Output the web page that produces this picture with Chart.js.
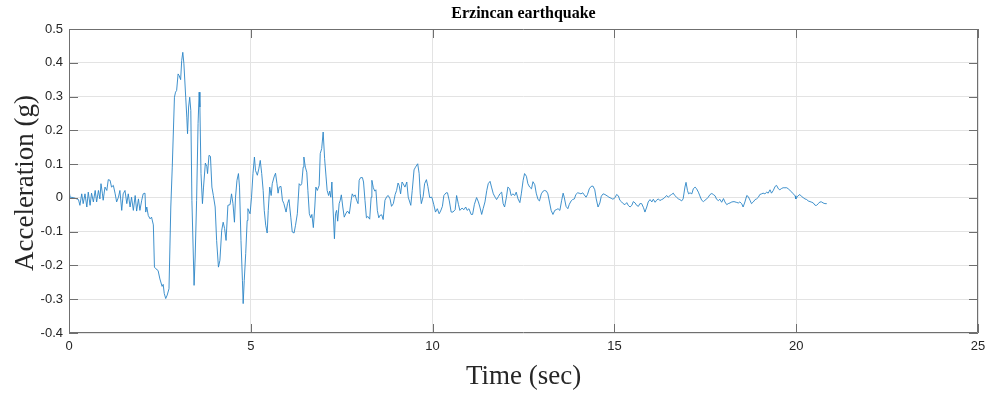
<!DOCTYPE html>
<html>
<head>
<meta charset="utf-8">
<title>Erzincan earthquake</title>
<script src="https://cdn.jsdelivr.net/npm/chart.js@4/dist/chart.umd.min.js"></script>
<style>
  html, body { margin: 0; padding: 0; background: #fff; }
  #wrap { width: 993px; height: 393px; }
</style>
</head>
<body>
<div id="wrap"><canvas id="quakeChart" width="993" height="393"></canvas></div>
<script>
// Ground acceleration record, time in seconds, acceleration in g
const timeSec = [
  0.00, 0.03, 0.12, 0.26, 0.30, 0.35, 0.39, 0.44, 0.49, 0.53, 0.58, 0.62, 0.67, 0.72, 0.76, 0.81, 0.85, 0.88, 0.92, 0.94,
  0.99, 1.04, 1.08, 1.13, 1.17, 1.22, 1.27, 1.31, 1.36, 1.40, 1.45, 1.49, 1.54, 1.59, 1.63, 1.68, 1.72, 1.77, 1.82, 1.86,
  1.91, 1.95, 2.00, 2.04, 2.09, 2.11, 2.14, 2.18, 2.23, 2.27, 2.32,
  2.35, 2.39, 2.45, 2.50, 2.56, 2.59, 2.62, 2.66, 2.70, 2.75, 2.80, 2.84, 2.90, 2.93, 2.96, 3.00, 3.03, 3.07, 3.10, 3.13,
  3.16, 3.21, 3.24, 3.26, 3.29, 3.32, 3.35, 3.38, 3.44, 3.47, 3.51, 3.55, 3.58, 3.60, 3.63, 3.67, 3.70, 3.75, 3.79, 3.81,
  3.85, 3.89, 3.93, 3.97, 4.02, 4.06, 4.11, 4.15, 4.20, 4.24, 4.28, 4.32, 4.37, 4.43,
  4.47, 4.51, 4.55, 4.58, 4.62, 4.66, 4.69, 4.73, 4.77, 4.79, 4.82, 4.86, 4.90, 4.92, 4.98, 5.02, 5.06, 5.10, 5.13, 5.18,
  5.22, 5.26, 5.30, 5.34, 5.37, 5.41, 5.45, 5.48, 5.52, 5.56, 5.59, 5.64, 5.68, 5.72, 5.75, 5.78, 5.83, 5.87, 5.91, 5.97,
  6.01, 6.05, 6.10, 6.14, 6.19, 6.23, 6.28, 6.33, 6.37,
  6.40, 6.44, 6.46, 6.50, 6.54, 6.57, 6.61, 6.65, 6.68, 6.72, 6.76, 6.79, 6.83, 6.88, 6.91, 6.95, 6.99, 7.03, 7.07, 7.10,
  7.14, 7.17, 7.20, 7.23, 7.26, 7.30, 7.33, 7.36, 7.39, 7.43, 7.46, 7.49, 7.53, 7.57, 7.62, 7.66, 7.71, 7.76, 7.79, 7.83,
  7.87, 7.91, 7.95, 7.98, 8.02, 8.07, 8.10, 8.14, 8.18, 8.22, 8.27, 8.31, 8.33, 8.37, 8.41, 8.44, 8.48, 8.52, 8.55, 8.60,
  8.64, 8.69, 8.74,
  8.78, 8.83, 8.87, 8.92, 8.97, 9.01, 9.05, 9.08, 9.12, 9.16, 9.19, 9.24, 9.29, 9.33, 9.40, 9.44, 9.49, 9.53, 9.59, 9.63,
  9.66, 9.69, 9.74, 9.78, 9.83, 9.87, 9.92, 9.98, 10.03, 10.08, 10.13, 10.18, 10.22, 10.27, 10.31, 10.37, 10.41, 10.46,
  10.51, 10.56, 10.62, 10.66, 10.71, 10.75, 10.81, 10.86, 10.91, 10.95, 11.00, 11.06, 11.10, 11.15,
  11.21, 11.26, 11.30, 11.35, 11.39, 11.44, 11.49, 11.53, 11.58, 11.62, 11.67, 11.72, 11.76, 11.81, 11.85, 11.90, 11.94,
  11.98, 12.03, 12.07, 12.12, 12.16, 12.21, 12.26, 12.30, 12.35, 12.40, 12.44, 12.49, 12.53, 12.58, 12.62, 12.67, 12.72,
  12.76, 12.81, 12.85, 12.90, 12.94, 12.99, 13.04, 13.08, 13.13, 13.17, 13.22, 13.26, 13.31, 13.36, 13.40, 13.45,
  13.50, 13.55, 13.59, 13.62, 13.67, 13.72, 13.76, 13.81, 13.85, 13.90, 13.94, 13.99, 14.03, 14.08, 14.13, 14.17, 14.22,
  14.26, 14.31, 14.36, 14.41, 14.46, 14.50, 14.55, 14.60, 14.64, 14.69, 14.74, 14.80, 14.85, 14.91, 14.96, 15.02, 15.06,
  15.11, 15.15, 15.20, 15.24, 15.29, 15.34, 15.38, 15.43, 15.48, 15.52, 15.57, 15.61, 15.66, 15.70, 15.75, 15.80, 15.84,
  15.89, 15.93, 15.98, 16.03, 16.07, 16.12, 16.16, 16.21, 16.25, 16.30, 16.34, 16.39, 16.44, 16.48, 16.53, 16.57, 16.62,
  16.66, 16.71, 16.76, 16.80, 16.85, 16.89, 16.94, 16.97, 17.01, 17.04, 17.08, 17.13, 17.17, 17.22, 17.26, 17.31, 17.35,
  17.40, 17.45, 17.49, 17.54, 17.58, 17.63, 17.68, 17.72, 17.77, 17.81, 17.86, 17.90, 17.95, 18.00, 18.04, 18.09, 18.13,
  18.18, 18.23, 18.29, 18.35, 18.41, 18.45, 18.50, 18.54, 18.59, 18.64, 18.68, 18.73, 18.77, 18.82, 18.87, 18.91, 18.96,
  19.00, 19.05, 19.09, 19.14, 19.19, 19.23, 19.28, 19.32, 19.37, 19.42, 19.46, 19.51, 19.55, 19.60, 19.64, 19.69, 19.74,
  19.78, 19.83, 19.88, 19.92, 19.97, 19.99, 20.04, 20.10, 20.15, 20.19, 20.24, 20.29, 20.33, 20.38, 20.43, 20.47, 20.52,
  20.56, 20.61, 20.65, 20.70, 20.74, 20.79, 20.84
];

const accelG = [
  0.024, 0.002, 0.001, -0.005, -0.022, 0.012, -0.017, 0.012, -0.027, 0.017, -0.022, 0.014, -0.012, 0.022, -0.012, 0.022, -0.003, 0.042, 0.012, -0.007,
  0.032, 0.022, 0.054, 0.052, 0.032, 0.037, 0.012, -0.012, 0.002, 0.022, -0.037, 0.012, 0.022, -0.017, 0.012, -0.027, 0.002, -0.037, 0.007, -0.039,
  -0.003, -0.037, -0.007, 0.012, 0.014, -0.042, -0.027, -0.052, -0.062, -0.057, -0.080,
  -0.205, -0.210, -0.215, -0.240, -0.262, -0.256, -0.283, -0.298, -0.288, -0.269, -0.027, 0.091, 0.298, 0.313, 0.318, 0.367, 0.362, 0.350, 0.407, 0.431,
  0.397, 0.298, 0.239, 0.190, 0.269, 0.298, 0.259, -0.007, -0.259, -0.175, -0.007, 0.220, 0.313, 0.269, 0.072, -0.017, 0.032, 0.103, 0.093, 0.072,
  0.126, 0.123, 0.032, 0.007, -0.027, -0.126, -0.205, -0.185, -0.096, -0.072, -0.091, -0.126, -0.022, -0.020,
  0.012, -0.017, -0.072, 0.002, 0.052, 0.072, 0.032, -0.126, -0.244, -0.313, -0.244, -0.165, -0.067, -0.032, -0.047, 0.002, 0.072, 0.121, 0.081, 0.067,
  0.086, 0.111, 0.072, 0.022, -0.037, -0.081, -0.104, -0.037, 0.032, 0.007, 0.042, 0.062, 0.073, 0.042, 0.014, 0.032, 0.034, -0.007, -0.017, -0.042,
  -0.017, -0.005, -0.057, -0.101, -0.104, -0.081, -0.047, 0.042, 0.037,
  0.042, 0.091, 0.121, 0.091, 0.076, 0.022, -0.047, -0.059, -0.049, -0.088, -0.027, 0.032, 0.022, 0.037, 0.131, 0.146, 0.195, 0.116, 0.062, 0.022,
  0.007, 0.020, 0.002, 0.047, -0.027, -0.121, -0.047, -0.037, -0.069, -0.017, -0.007, 0.009, -0.027, -0.057, -0.045, -0.039, -0.047, -0.007, 0.012, 0.004,
  0.009, -0.007, -0.017, 0.052, 0.060, 0.060, 0.047, -0.007, -0.059, -0.055, -0.063, 0.002, 0.052, 0.030, 0.020, 0.024, -0.037, -0.059, -0.052, -0.050,
  -0.064, -0.007, 0.004,
  0.007, -0.003, -0.025, -0.017, 0.010, 0.022, 0.044, 0.037, 0.012, 0.047, 0.042, 0.032, 0.047, 0.002, -0.022, 0.022, 0.083, 0.091, 0.101, 0.072,
  0.012, -0.017, 0.004, 0.042, 0.054, 0.034, 0.001, 0.002, -0.019, -0.042, -0.032, -0.047, -0.039, -0.025, 0.007, 0.015, 0.015, -0.009,
  -0.042, -0.042, -0.035, 0.007, -0.019, -0.037, -0.030, -0.035, -0.027, -0.037, -0.032, -0.049, -0.049, -0.019,
  0.001, -0.012, -0.027, -0.049, -0.032, -0.012, 0.022, 0.042, 0.049, 0.032, 0.012, 0.002, -0.005, 0.004, 0.012, 0.017, -0.017,
  -0.027, 0.002, 0.032, 0.027, 0.007, 0.012, 0.007, 0.017, -0.003, -0.014, 0.012, 0.052, 0.072, 0.064, 0.042, 0.032, 0.027,
  0.048, 0.039, 0.014, -0.005, -0.009, 0.012, 0.020, 0.022, 0.020, 0.012, -0.015, -0.037, -0.049, -0.037, -0.035, -0.032,
  -0.037, -0.007, 0.014, 0.002, -0.025, -0.032, -0.019, -0.009, -0.005, -0.003, 0.010, 0.015, 0.014, 0.012, 0.015, 0.009, 0.002,
  0.010, 0.027, 0.034, 0.035, 0.024, -0.003, -0.027, -0.015, 0.005, 0.012, 0.010, 0.006, 0.002, -0.001, -0.004, 0.001, 0.010,
  0.006, -0.007, -0.012, -0.017, -0.020, -0.014, -0.022, -0.027, -0.022, -0.011, -0.015, -0.022, -0.025, -0.017, -0.017, -0.029, -0.042,
  -0.027, -0.012, -0.005, -0.012, -0.004, -0.013, -0.007, -0.003, -0.008, -0.005, -0.003, 0.002, 0.007, 0.002, 0.007, 0.010, 0.014,
  0.007, 0.002, -0.003, -0.005, -0.009, -0.003, 0.032, 0.046, 0.022, 0.012, 0.015, 0.012, 0.027, 0.032, 0.027, 0.017, 0.006,
  -0.007, -0.011, -0.007, -0.003, 0.002, 0.010, 0.013, 0.010, 0.006, -0.004, -0.008, -0.004, -0.013, -0.002, -0.012, -0.020, -0.017,
  -0.015, -0.012, -0.011, -0.013, -0.015, -0.012, -0.017, -0.027, -0.012, 0.007, 0.004, -0.007, -0.017, -0.012, -0.005, -0.003, 0.002,
  0.010, 0.012, 0.014, 0.012, 0.017, 0.014, 0.024, 0.014, 0.022, 0.034, 0.037, 0.027, 0.024, 0.028, 0.030, 0.030, 0.030,
  0.027, 0.022, 0.017, 0.012, 0.006, -0.003, 0.005, 0.010, 0.004, 0.001, -0.003, -0.005, -0.009, -0.011, -0.013, -0.015, -0.022,
  -0.022, -0.017, -0.012, -0.012, -0.015, -0.017, -0.017
];

// Axis tick positions
const xTicks = [0, 5, 10, 15, 20, 25];
const yTicks = [-0.4, -0.3, -0.2, -0.1, 0, 0.1, 0.2, 0.3, 0.4, 0.5];

const chartTitle = 'Erzincan earthquake';
const xTitle = 'Time (sec)';
const yTitle = 'Acceleration (g)';

const points = timeSec.map((t, i) => ({ x: t, y: accelG[i] }));

const axisColor = '#6f6f6f';
const labelColor = '#262626';

// Box outline, inward tick marks and the serif titles
const frameText = {
  id: 'frameText',
  afterDraw(chart) {
    const { ctx, chartArea: a, scales } = chart;
    ctx.save();
    ctx.strokeStyle = axisColor;
    ctx.lineWidth = 1;
    ctx.beginPath();
    ctx.rect(a.left + 0.5, a.top + 0.5, a.right - a.left - 1, a.bottom - a.top - 1);
    ctx.stroke();

    const tl = 9;
    ctx.beginPath();
    xTicks.forEach(v => {
      const px = Math.round(scales.x.getPixelForValue(v)) + 0.5;
      ctx.moveTo(px, a.bottom); ctx.lineTo(px, a.bottom - tl);
      ctx.moveTo(px, a.top); ctx.lineTo(px, a.top + tl);
    });
    yTicks.forEach(v => {
      const py = Math.round(scales.y.getPixelForValue(v)) + 0.5;
      ctx.moveTo(a.left, py); ctx.lineTo(a.left + tl, py);
      ctx.moveTo(a.right, py); ctx.lineTo(a.right - tl, py);
    });
    ctx.stroke();

    const cx = (a.left + a.right) / 2;
    ctx.fillStyle = '#000';
    ctx.textAlign = 'center';
    ctx.textBaseline = 'alphabetic';
    ctx.font = 'bold 16px "Liberation Serif", "Times New Roman", serif';
    ctx.fillText(chartTitle, cx, 18);

    ctx.fillStyle = '#262626';
    ctx.font = '27px "Liberation Serif", "Times New Roman", serif';
    ctx.fillText(xTitle, cx, 384);

    ctx.translate(33, (a.top + a.bottom) / 2 + 2);
    ctx.rotate(-Math.PI / 2);
    ctx.fillText(yTitle, 0, 0);
    ctx.restore();
  }
};

new Chart(document.getElementById('quakeChart').getContext('2d'), {
  type: 'line',
  data: {
    datasets: [{
      label: chartTitle,
      data: points,
      borderColor: '#2a84c6',
      borderWidth: 0.9,
      pointRadius: 0,
      fill: false,
      tension: 0
    }]
  },
  options: {
    responsive: false,
    animation: false,
    devicePixelRatio: 1,
    layout: { padding: { top: 29, right: 15, left: 0, bottom: 0 } },
    plugins: {
      legend: { display: false },
      tooltip: { enabled: false }
    },
    scales: {
      x: {
        type: 'linear',
        min: 0,
        max: 25,
        afterFit: s => { s.height = 60; },
        afterBuildTicks: s => { s.ticks = xTicks.map(v => ({ value: v })); },
        ticks: {
          color: labelColor,
          padding: 6,
          maxRotation: 0,
          font: { family: '"Liberation Sans", Arial, sans-serif', size: 13 },
          callback: v => String(v)
        },
        grid: { color: '#e3e3e3', drawTicks: false },
        border: { display: false }
      },
      y: {
        type: 'linear',
        min: -0.4,
        max: 0.5,
        afterFit: s => { s.width = 69; },
        afterBuildTicks: s => { s.ticks = yTicks.map(v => ({ value: v })); },
        ticks: {
          color: labelColor,
          padding: 6,
          font: { family: '"Liberation Sans", Arial, sans-serif', size: 13 },
          callback: v => String(parseFloat(Number(v).toFixed(1)))
        },
        grid: { color: '#e3e3e3', drawTicks: false },
        border: { display: false }
      }
    }
  },
  plugins: [frameText]
});
</script>
</body>
</html>
